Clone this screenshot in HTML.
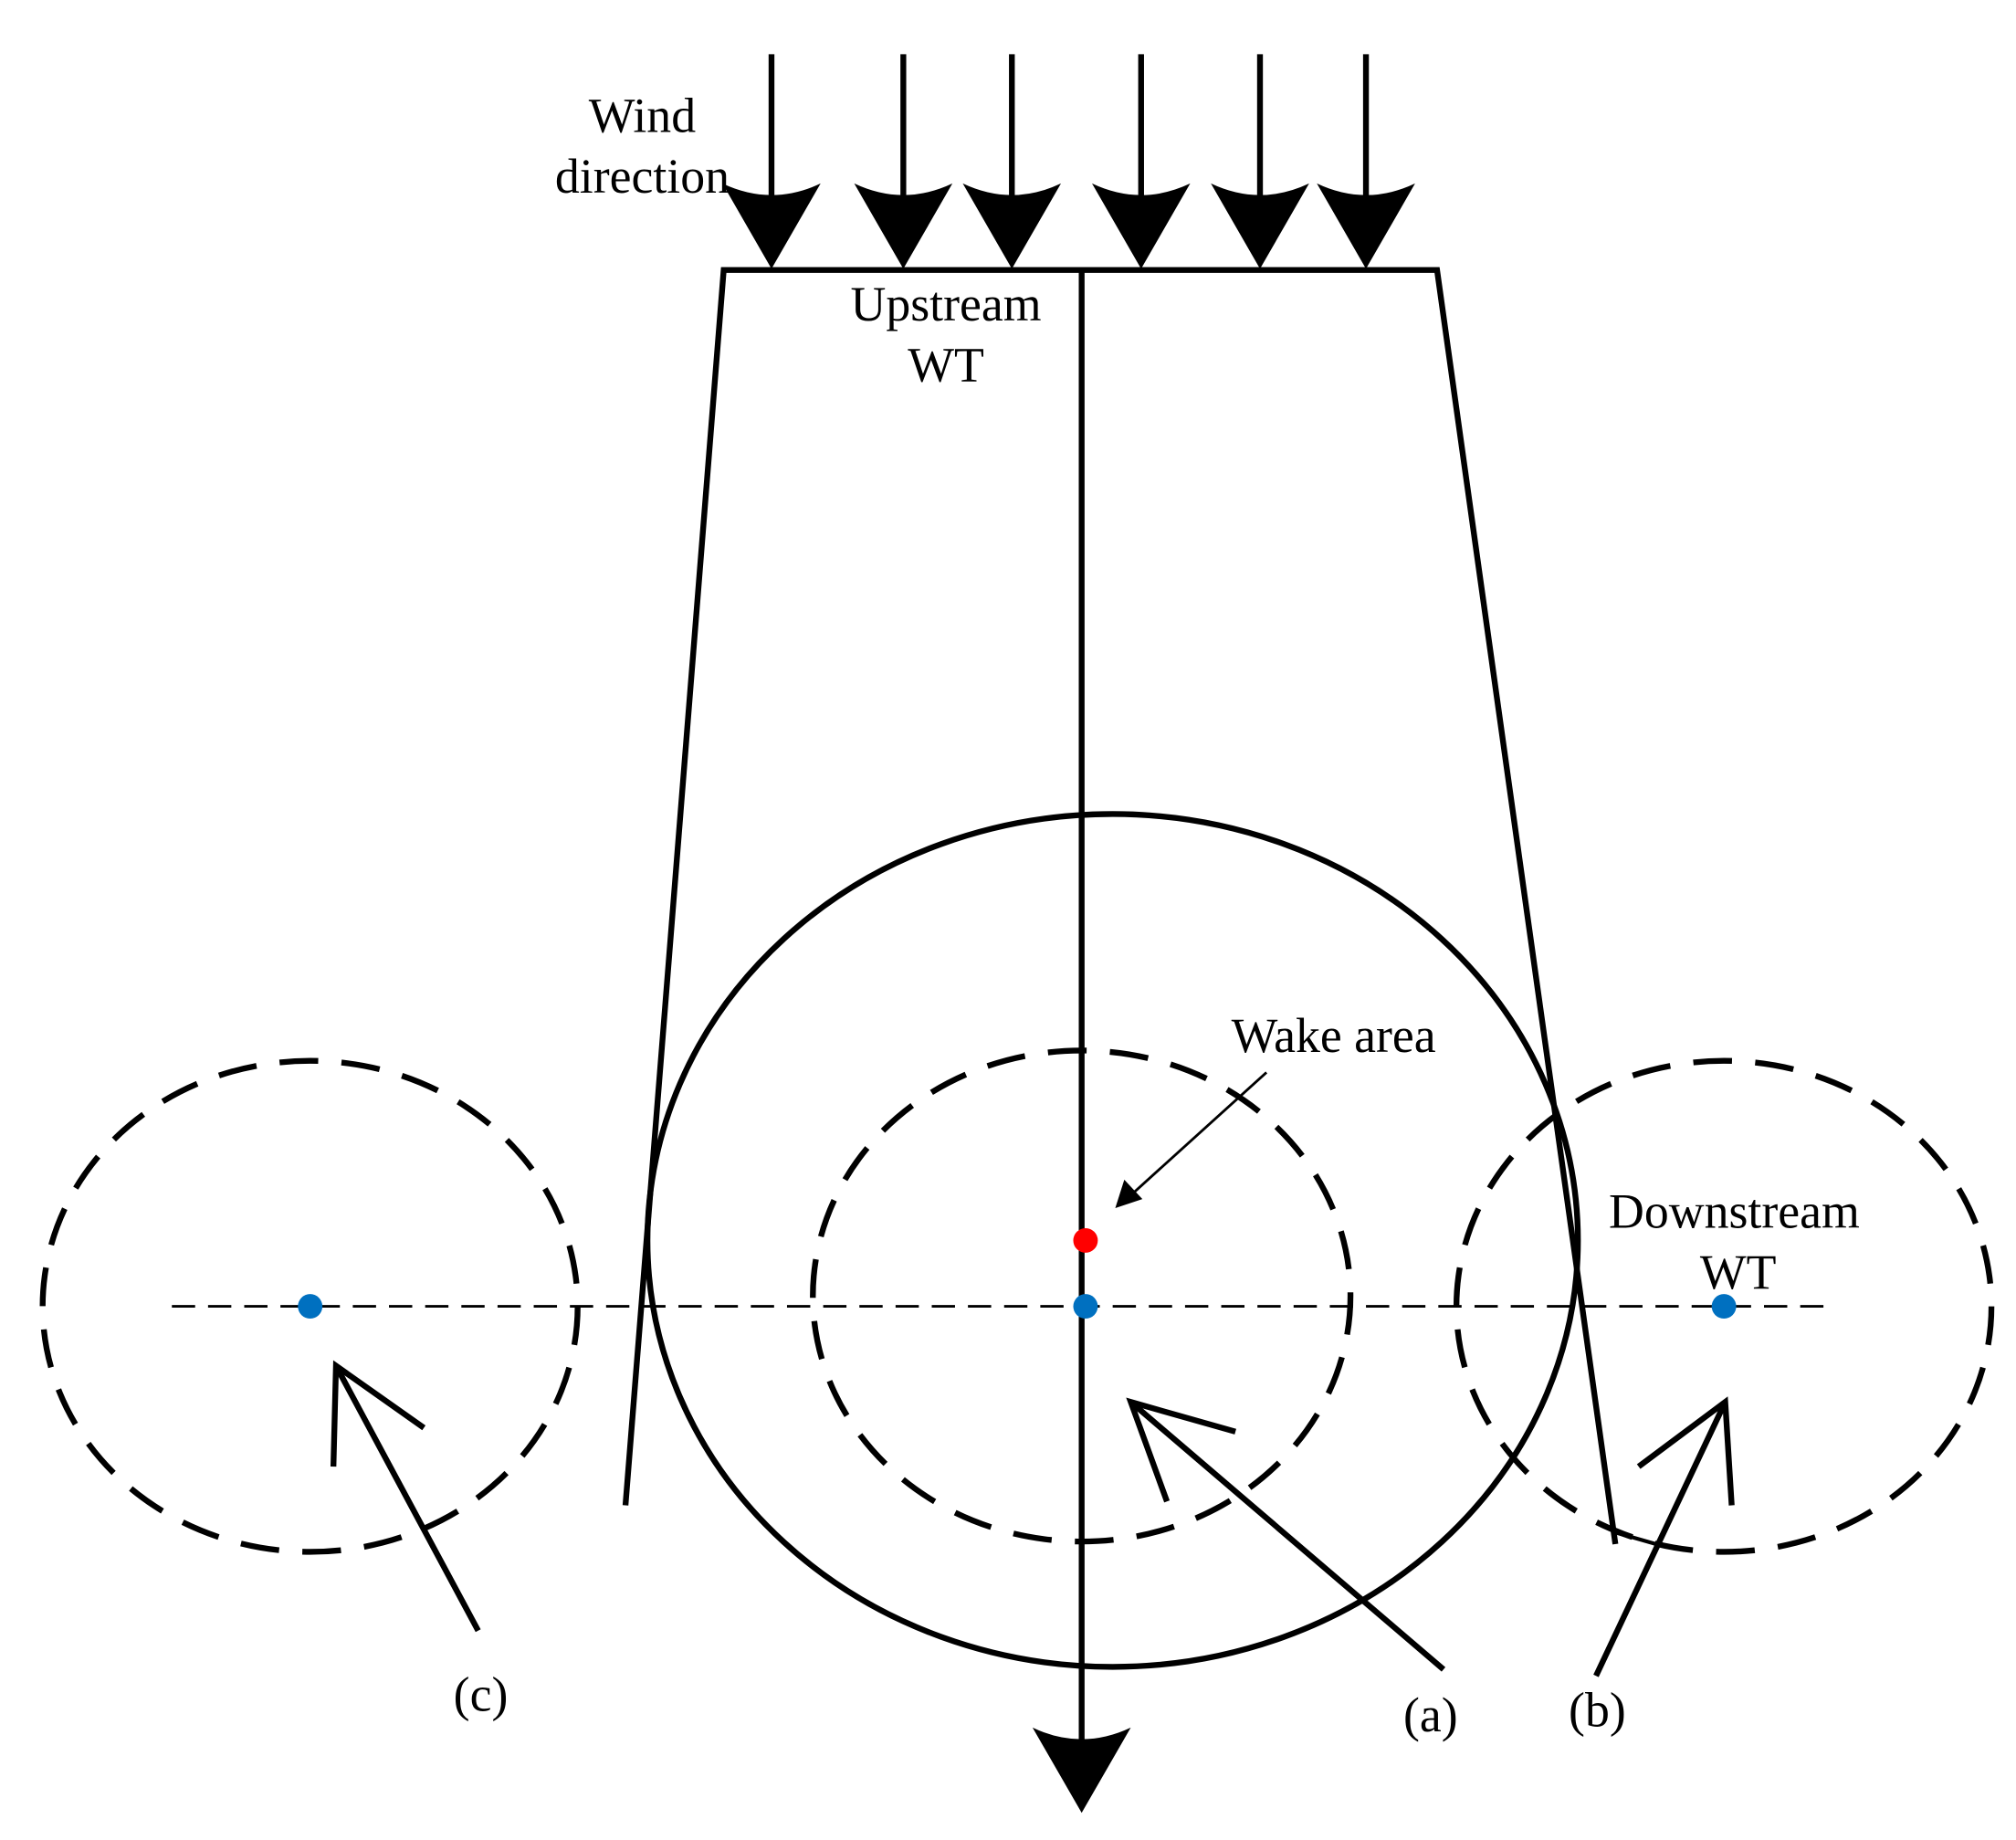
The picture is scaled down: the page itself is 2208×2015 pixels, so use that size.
<!DOCTYPE html>
<html><head><meta charset="utf-8"><style>
html,body{margin:0;padding:0;background:#fff;}
svg{display:block;}
text{font-family:"Liberation Serif",serif;font-size:38px;fill:#000;text-anchor:middle;}
</style></head><body>
<svg width="2208" height="2015" viewBox="0 0 1560 1424" preserveAspectRatio="none" xmlns="http://www.w3.org/2000/svg">
<defs>
<path id="ah" d="M-38,-66 Q0,-48 38,-66 L0,0 Z" fill="#000"/>
</defs>
<g stroke="#000" stroke-width="4.5" fill="none">
<line x1="597" y1="42" x2="597" y2="180"/>
<line x1="699" y1="42" x2="699" y2="180"/>
<line x1="783" y1="42" x2="783" y2="180"/>
<line x1="883" y1="42" x2="883" y2="180"/>
<line x1="975" y1="42" x2="975" y2="180"/>
<line x1="1057" y1="42" x2="1057" y2="180"/>
<polyline points="484,1165 560,209 1112,209 1250,1195"/>
<line x1="837" y1="209" x2="837" y2="1360"/>
<ellipse cx="861" cy="960" rx="360" ry="330"/>
<g stroke-dasharray="30 18">
<ellipse cx="837" cy="1003" rx="208" ry="190"/>
<ellipse cx="240" cy="1011" rx="207" ry="190"/>
<ellipse cx="1334" cy="1011" rx="207" ry="190"/>
</g>
<line x1="133" y1="1011" x2="1420" y2="1011" stroke-width="2" stroke-dasharray="18 10"/>
<line x1="1250" y1="1186" x2="1285" y2="1196" stroke-width="3"/>
<polyline points="258,1135 260,1057 328,1105"/>
<line x1="370" y1="1262" x2="260" y2="1057"/>
<polyline points="903,1162 875,1085 956,1108"/>
<line x1="1117" y1="1292" x2="875" y2="1085"/>
<polyline points="1268,1135 1335,1085 1340,1165"/>
<line x1="1235" y1="1297" x2="1335" y2="1085"/>
<line x1="980" y1="830" x2="875" y2="925" stroke-width="2"/>
</g>
<polygon points="863,935 870,913 884,928" fill="#000"/>
<use href="#ah" x="597" y="208"/>
<use href="#ah" x="699" y="208"/>
<use href="#ah" x="783" y="208"/>
<use href="#ah" x="883" y="208"/>
<use href="#ah" x="975" y="208"/>
<use href="#ah" x="1057" y="208"/>
<use href="#ah" x="837" y="1403"/>
<circle cx="240" cy="1011" r="9.5" fill="#0070c0"/>
<circle cx="840" cy="1011" r="9.5" fill="#0070c0"/>
<circle cx="1334" cy="1011" r="9.5" fill="#0070c0"/>
<circle cx="840" cy="960" r="9.5" fill="#ff0000"/>
<text x="497" y="102">Wind</text>
<text x="497" y="149">direction</text>
<text x="732" y="248">Upstream</text>
<text x="732" y="295">WT</text>
<text x="1032" y="814">Wake area</text>
<text x="1342" y="950">Downstream</text>
<text x="1345" y="997">WT</text>
<text x="372" y="1324">(c)</text>
<text x="1107" y="1340">(a)</text>
<text x="1236" y="1336">(b)</text>
</svg>
</body></html>
